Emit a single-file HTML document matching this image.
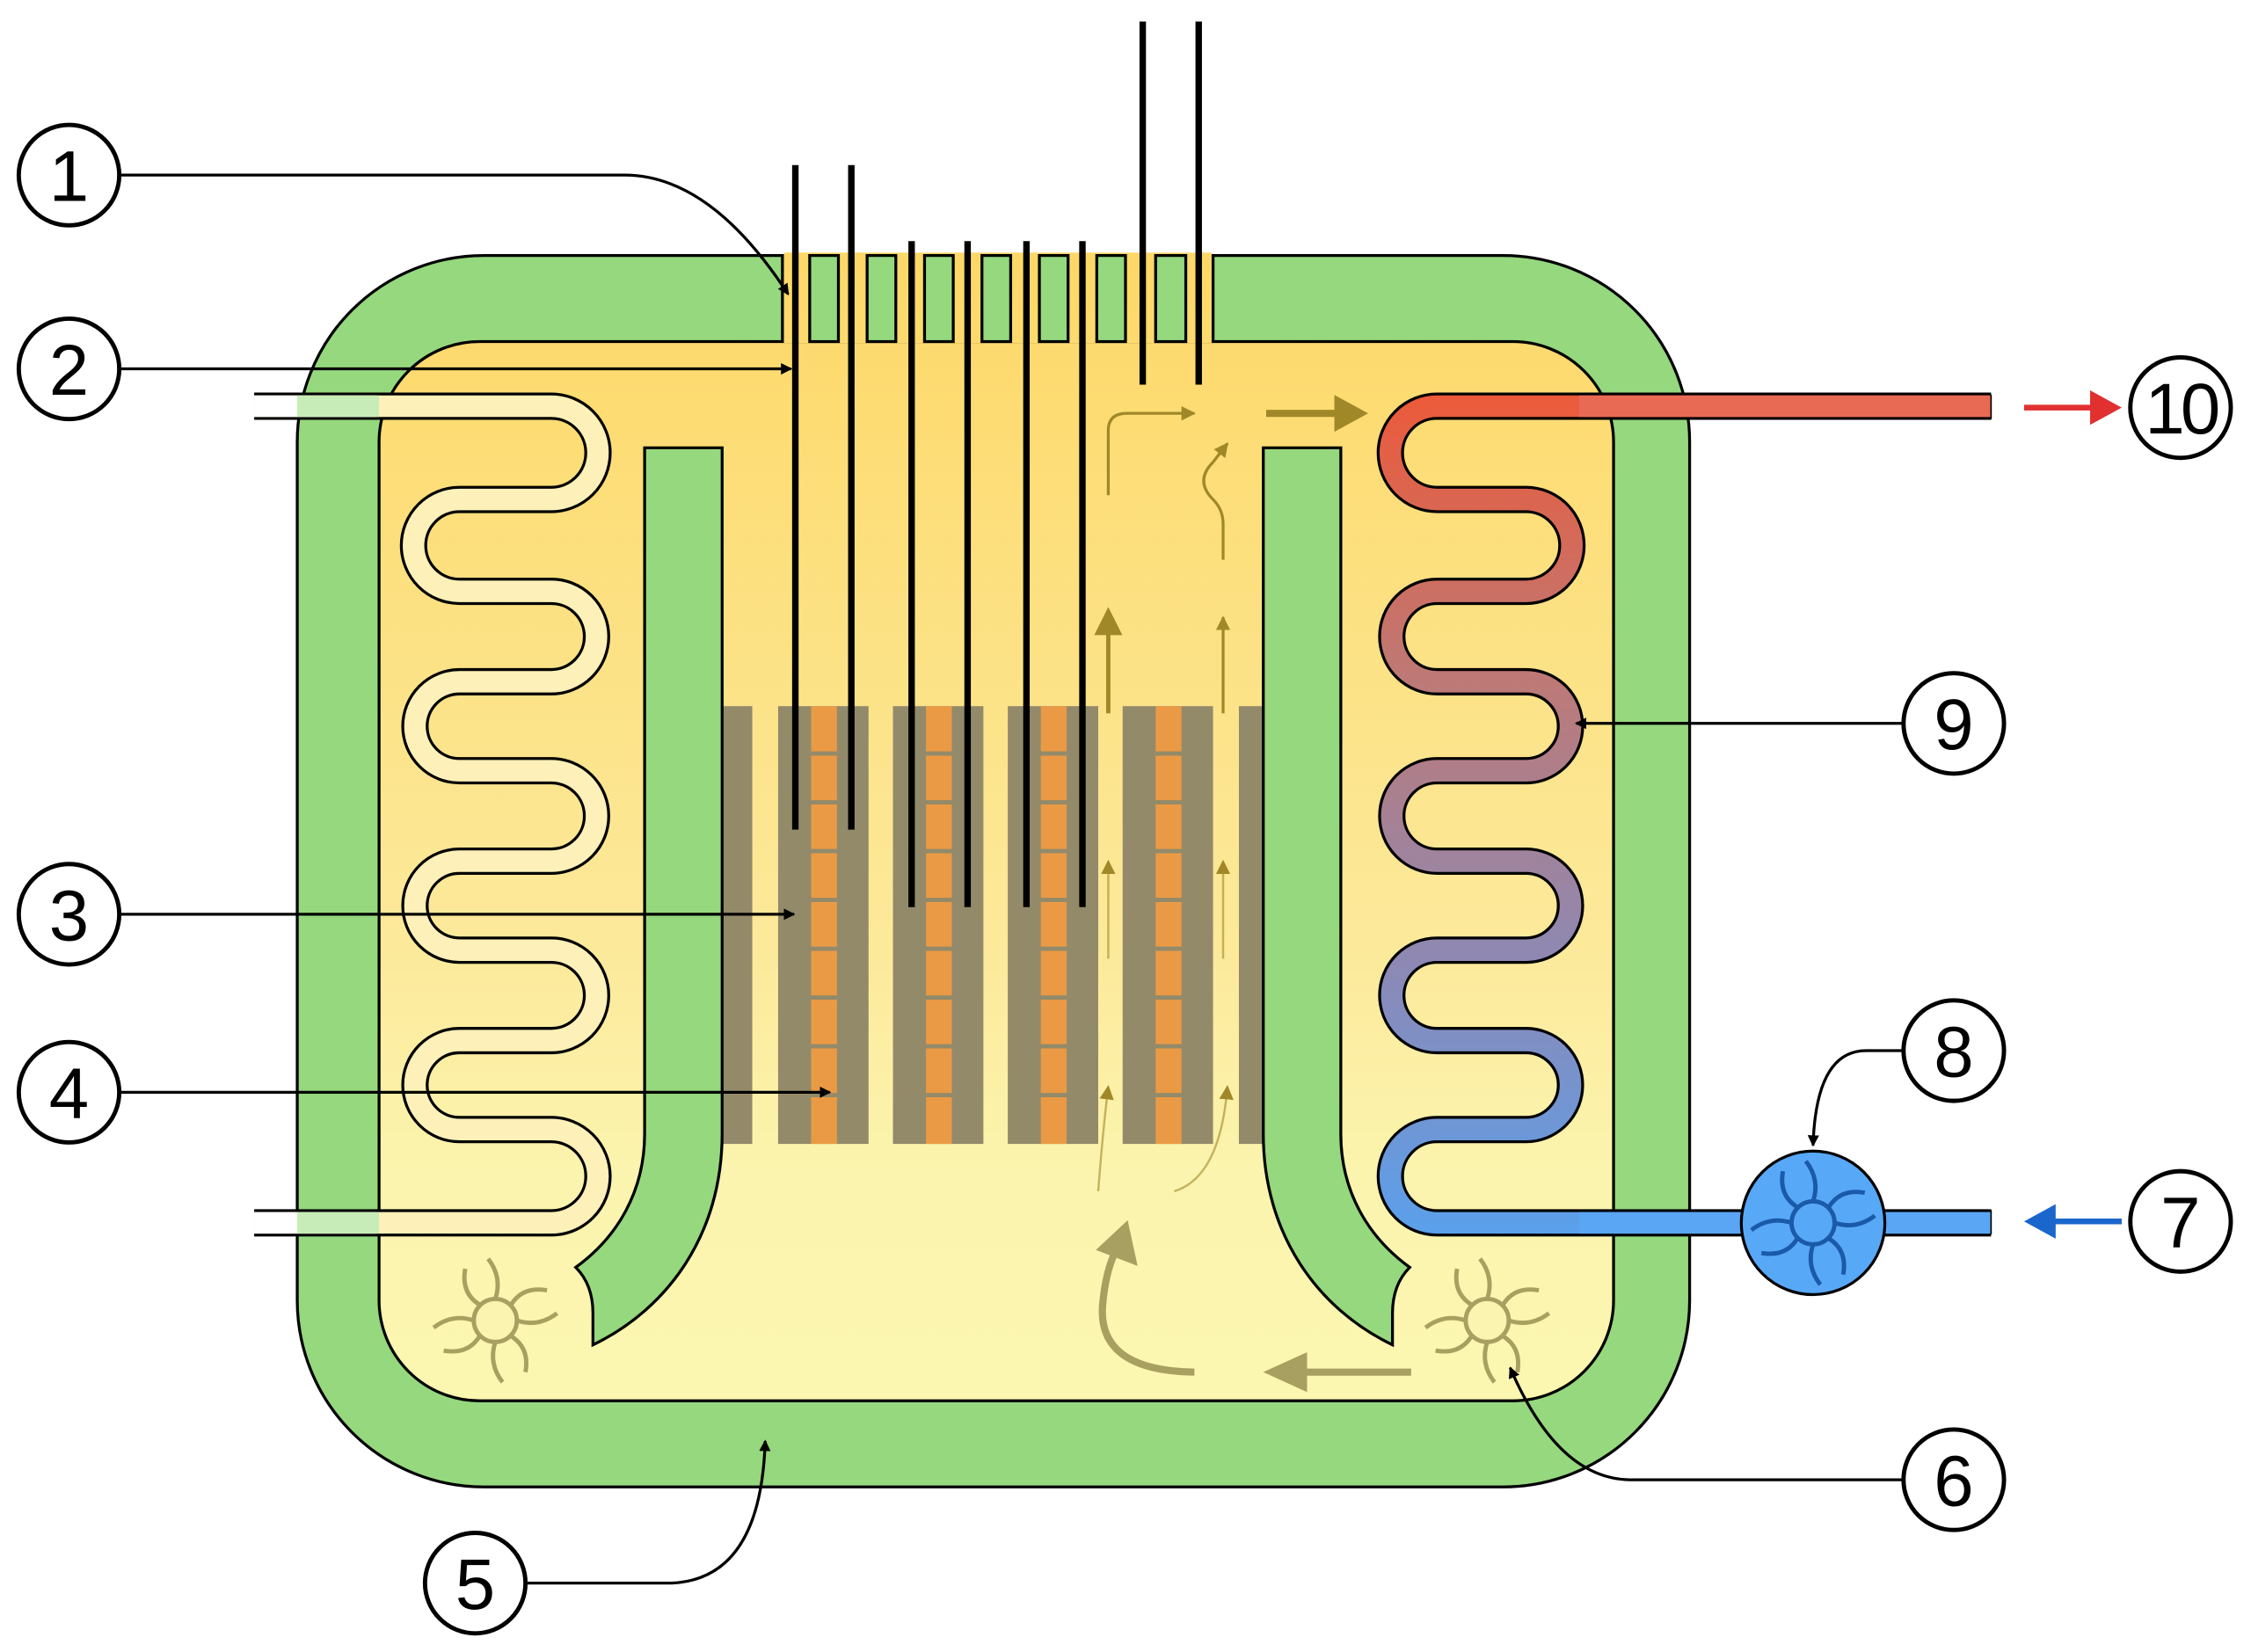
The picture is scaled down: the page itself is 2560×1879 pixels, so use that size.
<!DOCTYPE html>
<html><head><meta charset="utf-8"><style>html,body{margin:0;padding:0;background:#fff}svg{display:block}</style></head>
<body>
<svg width="2560" height="1879" viewBox="0 0 1568 1151" xmlns="http://www.w3.org/2000/svg">
<defs>
<linearGradient id="yel" x1="0" y1="178" x2="0" y2="976" gradientUnits="userSpaceOnUse">
<stop offset="0" stop-color="#fdd868"/><stop offset="0.6" stop-color="#fce99a"/><stop offset="0.8" stop-color="#fbf4ae"/><stop offset="1" stop-color="#fbf6b0"/></linearGradient>
<linearGradient id="hot" x1="0" y1="275" x2="0" y2="860" gradientUnits="userSpaceOnUse">
<stop offset="0" stop-color="#ec5a3a"/><stop offset="0.35" stop-color="#bc7a78"/><stop offset="0.7" stop-color="#8a8ab8"/><stop offset="1" stop-color="#5aa0ec"/></linearGradient>
<marker id="ah" markerWidth="8" markerHeight="8" refX="7" refY="4" orient="auto" markerUnits="userSpaceOnUse"><path d="M0,0 L8,4 L0,8 Z" fill="#000"/></marker>
<marker id="oh" markerWidth="10" markerHeight="10" refX="9" refY="5" orient="auto" markerUnits="userSpaceOnUse"><path d="M0,0 L10,5 L0,10 Z" fill="#a08828"/></marker>
</defs>
<rect x="207" y="178" width="970" height="858" rx="130" fill="#95d87e" stroke="#000" stroke-width="2"/>
<rect x="264" y="238" width="860" height="738" rx="70" fill="url(#yel)" stroke="#000" stroke-width="2"/>
<rect x="546" y="176" width="298" height="63" fill="url(#yel)"/>
<path d="M545,178 V238 M845,178 V238" stroke="#000" stroke-width="2"/>
<g fill="#95d87e" stroke="#000" stroke-width="2">
<rect x="564" y="178" width="20" height="60"/><rect x="604" y="178" width="20" height="60"/><rect x="644" y="178" width="20" height="60"/><rect x="684" y="178" width="20" height="60"/><rect x="724" y="178" width="20" height="60"/><rect x="764" y="178" width="20" height="60"/><rect x="805" y="178" width="21" height="60"/>
</g>
<g fill="#938a6a">
<rect x="503" y="492" width="21" height="305"/><rect x="542" y="492" width="63" height="305"/><rect x="622" y="492" width="63" height="305"/><rect x="702" y="492" width="63" height="305"/><rect x="782" y="492" width="63" height="305"/><rect x="863" y="492" width="17" height="305"/>
</g>
<g fill="#ea9a45"><rect x="565" y="492" width="18" height="305"/><rect x="645" y="492" width="18" height="305"/><rect x="725" y="492" width="18" height="305"/><rect x="805" y="492" width="18" height="305"/></g>
<g stroke="#938a6a" stroke-width="3">
<path d="M560,525H588M560,559H588M560,593H588M560,627H588M560,661H588M560,695H588M560,729H588M560,763H588"/>
<path d="M640,525H668M640,559H668M640,593H668M640,627H668M640,661H668M640,695H668M640,729H668M640,763H668"/>
<path d="M720,525H748M720,559H748M720,593H748M720,627H748M720,661H748M720,695H748M720,729H748M720,763H748"/>
<path d="M800,525H828M800,559H828M800,593H828M800,627H828M800,661H828M800,695H828M800,729H828M800,763H828"/>
</g>
<g fill="#95d87e" stroke="#000" stroke-width="2">
<path d="M449,312 H503 V790 C503,860 465,912 413,937 L413,915 C413,900 408,890 401,883 C430,862 449,830 449,790 Z"/>
<path d="M934,312 H880 V790 C880,860 918,912 970,937 L970,915 C970,900 975,890 982,883 C953,862 934,830 934,790 Z"/>
</g>
<g fill="none" stroke-linejoin="round">
<path d="M177,283 H384 A32.5,32.5 0 0 1 384,348 H320 A32,32 0 0 0 320,412 H384 A31.5,31.5 0 0 1 384,475 H320 A31,31 0 0 0 320,537 H384 A31.5,31.5 0 0 1 384,600 H320 A31,31 0 0 0 320,662 H384 A31.5,31.5 0 0 1 384,725 H320 A31,31 0 0 0 320,787 H384 A32.5,32.5 0 0 1 384,852 H177" stroke="#000" stroke-width="19"/>
<path d="M177,283 H384 A32.5,32.5 0 0 1 384,348 H320 A32,32 0 0 0 320,412 H384 A31.5,31.5 0 0 1 384,475 H320 A31,31 0 0 0 320,537 H384 A31.5,31.5 0 0 1 384,600 H320 A31,31 0 0 0 320,662 H384 A31.5,31.5 0 0 1 384,725 H320 A31,31 0 0 0 320,787 H384 A32.5,32.5 0 0 1 384,852 H177" stroke="#fdf0b8" stroke-width="15"/>
<path d="M177,283 H262 M177,852 H262" stroke="#fff" stroke-width="15"/>
<path d="M207,283 H264 M207,852 H264" stroke="#c8ecb8" stroke-width="15"/>
<path d="M1387,283 H1001 A32.5,32.5 0 0 0 1001,348 H1063 A32,32 0 0 1 1063,412 H1001 A31.5,31.5 0 0 0 1001,475 H1063 A31,31 0 0 1 1063,537 H1001 A31.5,31.5 0 0 0 1001,600 H1063 A31,31 0 0 1 1063,662 H1001 A31.5,31.5 0 0 0 1001,725 H1063 A31,31 0 0 1 1063,787 H1001 A32.5,32.5 0 0 0 1001,852 H1387" stroke="#000" stroke-width="19"/>
<path d="M1387,283 H1001 A32.5,32.5 0 0 0 1001,348 H1063 A32,32 0 0 1 1063,412 H1001 A31.5,31.5 0 0 0 1001,475 H1063 A31,31 0 0 1 1063,537 H1001 A31.5,31.5 0 0 0 1001,600 H1063 A31,31 0 0 1 1063,662 H1001 A31.5,31.5 0 0 0 1001,725 H1063 A31,31 0 0 1 1063,787 H1001 A32.5,32.5 0 0 0 1001,852 H1387" stroke="url(#hot)" stroke-width="15"/>
<path d="M1100,283 H1387" stroke="#e86a55" stroke-width="15"/>
<path d="M1100,852 H1387" stroke="#5aa6f4" stroke-width="15"/>
<path d="M1387,275 V292 M1387,843 V860" stroke="#000" stroke-width="1"/>
</g>
<circle cx="1263" cy="852" r="50" fill="#58a8f8" stroke="#000" stroke-width="2"/>
<circle cx="1263" cy="852" r="15" fill="none" stroke="#1a5aa8" stroke-width="3"/>
<g stroke="#1a5aa8" stroke-width="3" fill="none">
<path d="M1263,837 q5,-15 -5,-28"/><path d="M1263,867 q-5,15 5,28"/><path d="M1248,852 q-15,-5 -28,5"/><path d="M1278,852 q15,5 28,-5"/>
<path d="M1252,841 q-13,-8 -10,-25"/><path d="M1274,863 q13,8 10,25"/><path d="M1274,841 q8,-13 25,-10"/><path d="M1252,863 q-8,13 -25,10"/>
</g>
<g stroke="#a8a060" stroke-width="3" fill="none">
<g transform="translate(345,920)"><circle r="15" fill="#fbf4b0"/>
<path d="M0,-15 q5,-15 -5,-28"/><path d="M0,15 q-5,15 5,28"/><path d="M-15,0 q-15,-5 -28,5"/><path d="M15,0 q15,5 28,-5"/><path d="M-11,-11 q-13,-8 -10,-25"/><path d="M11,11 q13,8 10,25"/><path d="M11,-11 q8,-13 25,-10"/><path d="M-11,11 q-8,13 -25,10"/></g>
<g transform="translate(1036,920)"><circle r="15" fill="#fbf4b0"/>
<path d="M0,-15 q5,-15 -5,-28"/><path d="M0,15 q-5,15 5,28"/><path d="M-15,0 q-15,-5 -28,5"/><path d="M15,0 q15,5 28,-5"/><path d="M-11,-11 q-13,-8 -10,-25"/><path d="M11,11 q13,8 10,25"/><path d="M11,-11 q8,-13 25,-10"/><path d="M-11,11 q-8,13 -25,10"/></g>
</g>
<g stroke="#000" stroke-width="4.5">
<path d="M554,115V578M593,115V578M635,168V632M674,168V632M715,168V632M754,168V632M796,15V268M835,15V268"/>
</g>
<g fill="none" stroke="#a08828">
<path d="M882,288 H935" stroke-width="5"/><path d="M930,276 L952,288 L930,300 Z" fill="#a08828"/>
<path d="M772,345 V300 Q772,288 785,288 H832" stroke-width="2" marker-end="url(#oh)"/>
<path d="M852,390 V365 Q852,355 845,348 Q832,335 845,322 L855,309" stroke-width="2" marker-end="url(#oh)"/>
<path d="M772,497 V430" stroke-width="3"/><path d="M763,442 L772,424 L781,442 Z" fill="#a08828"/>
<path d="M852,497 V430" stroke-width="2" marker-end="url(#oh)"/>
<path d="M772,668 V600" stroke-width="1.5" stroke-opacity="0.6" marker-end="url(#oh)"/>
<path d="M852,668 V600" stroke-width="1.5" stroke-opacity="0.6" marker-end="url(#oh)"/>
<path d="M765,830 Q768,790 772,757" stroke-width="1.5" stroke-opacity="0.6" marker-end="url(#oh)"/>
<path d="M818,830 Q850,820 855,757" stroke-width="1.5" stroke-opacity="0.6" marker-end="url(#oh)"/>
</g>
<g fill="none" stroke="#a8a060" stroke-width="5">
<path d="M983,956 H905"/><path d="M908,946 L886,956 L908,966 Z" fill="#a8a060"/>
<path d="M832,956 Q765,955 768,910 Q770,885 778,870"/><path d="M768,870 L784,855 L789,878 Z" fill="#a8a060"/>
</g>
<g fill="none" stroke="#000" stroke-width="2">
<path d="M84,122 H435 Q495,122 549,205" marker-end="url(#ah)"/>
<path d="M84,257 H551" marker-end="url(#ah)"/>
<path d="M84,637 H553" marker-end="url(#ah)"/>
<path d="M84,761 H578" marker-end="url(#ah)"/>
<path d="M366,1103 H468 Q530,1100 533,1004" marker-end="url(#ah)"/>
<path d="M1326,1031 H1135 Q1085,1030 1052,953" marker-end="url(#ah)"/>
<path d="M1326,732 H1300 Q1265,732 1263,798" marker-end="url(#ah)"/>
<path d="M1326,504 H1098" marker-end="url(#ah)"/>
</g>
<path d="M1410,284 H1460" stroke="#e03030" stroke-width="4"/><path d="M1456,272 L1478,284 L1456,296 Z" fill="#e03030"/>
<path d="M1478,851 H1428" stroke="#1a66cc" stroke-width="4"/><path d="M1432,839 L1410,851 L1432,863 Z" fill="#1a66cc"/>
<g fill="#fff" stroke="#000" stroke-width="3">
<circle cx="48" cy="122" r="35"/><circle cx="48" cy="257" r="35"/><circle cx="48" cy="637" r="35"/><circle cx="48" cy="761" r="35"/><circle cx="331" cy="1103" r="35"/><circle cx="1361" cy="1031" r="35"/><circle cx="1519" cy="851" r="35"/><circle cx="1361" cy="732" r="35"/><circle cx="1361" cy="504" r="35"/><circle cx="1519" cy="284" r="35"/>
</g>
<g font-family="Liberation Sans, sans-serif" font-size="50" text-anchor="middle" fill="#000">
<text x="48" y="140">1</text><text x="48" y="275">2</text><text x="48" y="655">3</text><text x="48" y="779">4</text><text x="331" y="1121">5</text><text x="1361" y="1049">6</text><text x="1519" y="869">7</text><text x="1361" y="750">8</text><text x="1361" y="522">9</text><text x="1519" y="302" letter-spacing="-3">10</text>
</g>
</svg>
</body></html>
